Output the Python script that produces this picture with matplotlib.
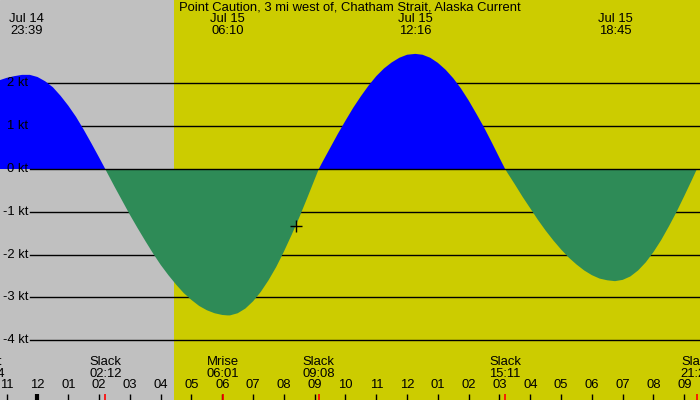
import matplotlib
matplotlib.use("Agg")
import matplotlib.pyplot as plt

plt.rcParams['font.family'] = ['Liberation Sans', 'DejaVu Sans']

# ---- data (hours relative to Jul 15 00:00, current in knots) ----
hours = [-1.25, -1.0, -0.75, -0.5, -0.35, -0.25, 0.0, 0.25, 0.5, 0.75,
         1.0, 1.25, 1.5, 1.75, 2.0, 2.2,
         2.25, 2.5, 2.75, 3.0, 3.25, 3.5, 3.75, 4.0, 4.25, 4.5, 4.75,
         5.0, 5.25, 5.5, 5.75, 6.0, 6.167,
         6.25, 6.5, 6.75, 7.0, 7.25, 7.5, 7.75, 8.0, 8.25, 8.5, 8.75,
         9.0, 9.133,
         9.25, 9.5, 9.75, 10.0, 10.25, 10.5, 10.75, 11.0, 11.25, 11.5,
         11.75, 12.0, 12.267,
         12.5, 12.75, 13.0, 13.25, 13.5, 13.75, 14.0, 14.25, 14.5, 14.75,
         15.0, 15.183,
         15.25, 15.5, 15.75, 16.0, 16.25, 16.5, 16.75, 17.0, 17.25, 17.5,
         17.75, 18.0, 18.25, 18.5, 18.75,
         19.0, 19.25, 19.5, 19.75, 20.0, 20.25, 20.5, 20.75, 21.0, 21.25,
         21.41]
speed = [2.07, 2.13, 2.17, 2.20, 2.20, 2.20, 2.15, 2.05, 1.91, 1.71,
         1.48, 1.22, 0.92, 0.60, 0.27, 0.0,
         -0.07, -0.41, -0.74, -1.07, -1.38, -1.68, -1.97, -2.24, -2.48,
         -2.70, -2.90, -3.06, -3.20, -3.30, -3.37, -3.41, -3.42,
         -3.42, -3.37, -3.26, -3.09, -2.87, -2.60, -2.29, -1.93, -1.54,
         -1.13, -0.69, -0.24, 0.0,
         0.16, 0.49, 0.82, 1.13, 1.43, 1.70, 1.95, 2.17, 2.35, 2.49,
         2.60, 2.67, 2.69,
         2.67, 2.60, 2.48, 2.32, 2.12, 1.88, 1.60, 1.29, 0.97, 0.62,
         0.26, 0.0,
         -0.08, -0.36, -0.65, -0.92, -1.19, -1.44, -1.67, -1.88, -2.07,
         -2.23, -2.37, -2.48, -2.56, -2.60, -2.62,
         -2.59, -2.51, -2.37, -2.18, -1.94, -1.66, -1.34, -1.00, -0.63,
         -0.25, 0.0]

title = "Point Caution, 3 mi west of, Chatham Strait, Alaska Current"

peak_hours = [-0.35, 6.167, 12.267, 18.75]
peak_dates = ["Jul 14", "Jul 15", "Jul 15", "Jul 15"]
peak_times = ["23:39", "06:10", "12:16", "18:45"]

event_hours = [-1.6, 2.2, 6.017, 9.133, 15.183, 21.41]
event_names = ["Mset", "Slack", "Mrise", "Slack", "Slack", "Slack"]
event_times = ["22:24", "02:12", "06:01", "09:08", "15:11", "21:25"]

tick_hours = list(range(-1, 22))
tick_labels = ["11", "12", "01", "02", "03", "04", "05", "06", "07", "08",
               "09", "10", "11", "12", "01", "02", "03", "04", "05", "06",
               "07", "08", "09"]

kt_levels = [2, 1, 0, -1, -2, -3, -4]
kt_labels = ["2 kt", "1 kt", "0 kt", "-1 kt", "-2 kt", "-3 kt", "-4 kt"]

sunrise_hour = 4.43
cursor_h, cursor_v = 8.39, -1.33

FS = 9.4

# ---- figure ----
fig = plt.figure(figsize=(7, 4), dpi=100)
ax = fig.add_axes([0, 0, 1, 1])
ax.set_xlim(-1.2175, 21.51)
ax.set_ylim(-5.397, 3.949)
ax.axis('off')
ax.add_patch(plt.Rectangle((0, 0), 1, 1, transform=ax.transAxes,
                           color='#c0c0c0', zorder=0))
ax.axvspan(sunrise_hour, 30, color='#cccc00', zorder=0.5, lw=0)

# grid lines
for lv in kt_levels:
    ax.axhline(lv, xmin=30 / 700, xmax=1, color='black', lw=1,
               zorder=3 if lv == 0 else 1)

# fills
ax.fill_between(hours, 0, speed, where=[s >= 0 for s in speed],
                color='#0000ff', lw=0, zorder=2, interpolate=True)
ax.fill_between(hours, 0, speed, where=[s <= 0 for s in speed],
                color='#2e8b57', lw=0, zorder=2, interpolate=True)

# y labels
for lv, lab in zip(kt_levels, kt_labels):
    ax.text(28 / 700, lv, lab, transform=ax.get_yaxis_transform(),
            ha='right', va='center', fontsize=FS, color='black', zorder=4)

tr = ax.get_xaxis_transform()
# title
ax.text(0.5, 1 - 8 / 400, title, transform=ax.transAxes, ha='center',
        va='center', fontsize=FS, zorder=5)
# peak labels
for h, d, t in zip(peak_hours, peak_dates, peak_times):
    ax.text(h, 1 - 19 / 400, d, transform=tr, ha='center', va='center',
            fontsize=FS, zorder=5)
    ax.text(h, 1 - 31 / 400, t, transform=tr, ha='center', va='center',
            fontsize=FS, zorder=5)
# events
for h, n, t in zip(event_hours, event_names, event_times):
    ax.text(h, 1 - 362 / 400, n, transform=tr, ha='center', va='center',
            fontsize=FS, zorder=5)
    ax.text(h, 1 - 374 / 400, t, transform=tr, ha='center', va='center',
            fontsize=FS, zorder=5)
    ax.plot([h, h], [0, 6 / 400], transform=tr, color='red', lw=1.2,
            zorder=6, solid_capstyle='butt')
# hour ticks
for h, lab in zip(tick_hours, tick_labels):
    ax.text(h, 1 - 385 / 400, lab, transform=tr, ha='center', va='center',
            fontsize=FS, zorder=5)
    ax.plot([h, h], [0, 6 / 400], transform=tr, color='black',
            lw=3 if h == 0 else 1, zorder=5, solid_capstyle='butt')

ax.plot([cursor_h], [cursor_v], marker='+', color='black', ms=9, mew=1,
        zorder=7)

fig.savefig('out.png', dpi=100)
